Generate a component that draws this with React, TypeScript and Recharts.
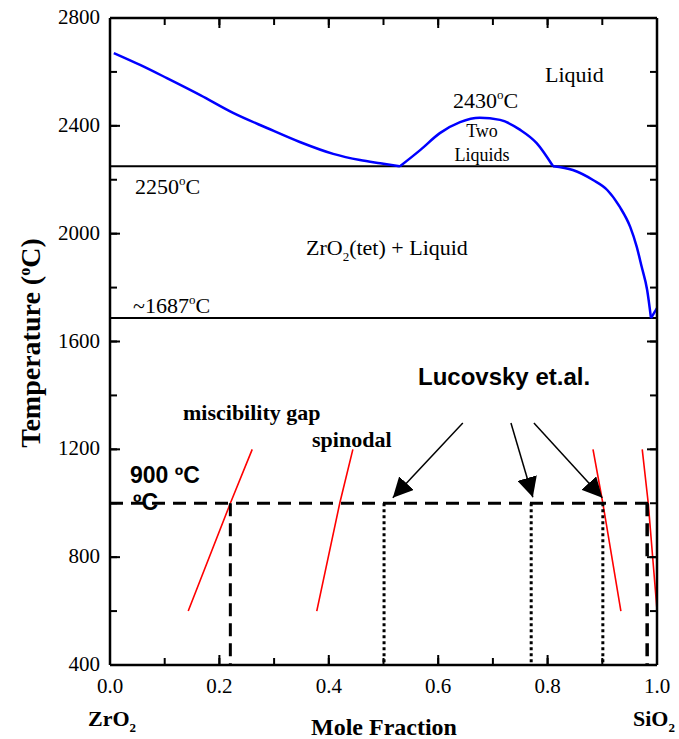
import { ComposedChart, Line, XAxis, YAxis } from 'recharts';

// tick values
const xTicks = [0, 0.1, 0.2, 0.3, 0.4, 0.5, 0.6, 0.7, 0.8, 0.9, 1.0];
const yTicks = [400, 600, 800, 1000, 1200, 1400, 1600, 1800, 2000, 2200, 2400, 2600, 2800];

// liquidus (blue)
const liquidusZrO2 = [
  { x: 0.007, T: 2670 },
  { x: 0.055, T: 2626 },
  { x: 0.104, T: 2577 },
  { x: 0.165, T: 2514 },
  { x: 0.225, T: 2448 },
  { x: 0.287, T: 2392 },
  { x: 0.347, T: 2340 },
  { x: 0.408, T: 2296 },
  { x: 0.457, T: 2273 },
  { x: 0.494, T: 2261 },
  { x: 0.53, T: 2250 },
];
const twoLiquidsDome = [
  { x: 0.53, T: 2250 },
  { x: 0.567, T: 2310 },
  { x: 0.603, T: 2373 },
  { x: 0.64, T: 2414 },
  { x: 0.676, T: 2430 },
  { x: 0.713, T: 2422 },
  { x: 0.75, T: 2385 },
  { x: 0.78, T: 2336 },
  { x: 0.81, T: 2250 },
];
const liquidusSiO2 = [
  { x: 0.81, T: 2250 },
  { x: 0.846, T: 2236 },
  { x: 0.883, T: 2199 },
  { x: 0.909, T: 2162 },
  { x: 0.932, T: 2099 },
  { x: 0.951, T: 2025 },
  { x: 0.963, T: 1951 },
  { x: 0.972, T: 1877 },
  { x: 0.982, T: 1791 },
  { x: 0.989, T: 1687 },
];
const cristobaliteTip = [
  { x: 0.989, T: 1687 },
  { x: 1.0, T: 1724 },
];

// invariant lines
const monotectic = [
  { x: 0, T: 2250 },
  { x: 1, T: 2250 },
];
const eutectic = [
  { x: 0, T: 1687 },
  { x: 1, T: 1687 },
];
const isotherm900 = [
  { x: 0, T: 1000 },
  { x: 1, T: 1000 },
];

// miscibility gap / spinodal (red)
const gapLeft = [
  { x: 0.143, T: 600 },
  { x: 0.22, T: 1000 },
  { x: 0.26, T: 1200 },
];
const spinodalLeft = [
  { x: 0.378, T: 600 },
  { x: 0.42, T: 1000 },
  { x: 0.444, T: 1200 },
];
const spinodalRight = [
  { x: 0.883, T: 1200 },
  { x: 0.901, T: 1000 },
  { x: 0.934, T: 600 },
];
const gapRight = [
  { x: 0.973, T: 1200 },
  { x: 0.984, T: 1000 },
  { x: 1.0, T: 604 },
];

// drops from the 900 C isotherm
const dropGapLeft = [
  { x: 0.22, T: 1000 },
  { x: 0.22, T: 400 },
];
const dropGapRight = [
  { x: 0.982, T: 1000 },
  { x: 0.982, T: 400 },
];
const lucovskyDrops = [0.501, 0.77, 0.901];

// arrows for Lucovsky et.al.
const arrows = [
  [{ x: 0.645, T: 1298 }, { x: 0.517, T: 1020 }],
  [{ x: 0.733, T: 1298 }, { x: 0.773, T: 1022 }],
  [{ x: 0.775, T: 1298 }, { x: 0.9, T: 1020 }],
];

const serif = '"Liberation Serif", "Times New Roman", serif';
const sans = '"Liberation Sans", Arial, sans-serif';

const isMajorX = (v: number) => Math.round(v * 10) % 2 === 0;
const isMajorY = (v: number) => v % 400 === 0;

// built-in tick lines are 7px (minor); majors get a 10px line drawn here
const BottomTick = (props: any) => {
  const { x, y, payload } = props;
  const major = isMajorX(payload.value);
  return (
    <g>
      {major && <line x1={x} x2={x} y1={y} y2={y - 10} stroke="#000" strokeWidth={2} />}
      {major && (
        <text x={x} y={y + 28} textAnchor="middle" fontFamily={serif} fontSize={21} fill="#000">
          {payload.value.toFixed(1)}
        </text>
      )}
    </g>
  );
};

const TopTick = (props: any) => {
  const { x, y, payload } = props;
  return isMajorX(payload.value) ? (
    <line x1={x} x2={x} y1={y} y2={y + 10} stroke="#000" strokeWidth={2} />
  ) : (
    <g />
  );
};

const LeftTick = (props: any) => {
  const { x, y, payload } = props;
  const major = isMajorY(payload.value);
  return (
    <g>
      {major && <line x1={x} x2={x + 10} y1={y} y2={y} stroke="#000" strokeWidth={2} />}
      {major && (
        <text x={x - 10} y={y + 6} textAnchor="end" fontFamily={serif} fontSize={21} fill="#000">
          {payload.value}
        </text>
      )}
    </g>
  );
};

const RightTick = (props: any) => {
  const { x, y, payload } = props;
  return isMajorY(payload.value) ? (
    <line x1={x} x2={x - 10} y1={y} y2={y} stroke="#000" strokeWidth={2} />
  ) : (
    <g />
  );
};

const axisLine = { stroke: '#000', strokeWidth: 2.5 };
const tickLine = { stroke: '#000', strokeWidth: 2 };

export default function App() {
  const common = {
    xAxisId: 'b',
    yAxisId: 'l',
    dataKey: 'T',
    dot: false,
    activeDot: false,
    isAnimationActive: false,
  } as const;

  const xProps = {
    dataKey: 'x',
    type: 'number',
    domain: [0, 1],
    ticks: xTicks,
    interval: 0,
    tickSize: -7,
    tickMargin: 7,
    tickLine,
    axisLine,
    allowDataOverflow: true,
  } as const;
  const yProps = {
    type: 'number',
    domain: [400, 2800],
    ticks: yTicks,
    interval: 0,
    tickSize: -7,
    tickMargin: 7,
    tickLine,
    axisLine,
    allowDataOverflow: true,
  } as const;

  return (
    <div style={{ position: 'absolute', left: 0, top: 0, width: 679, height: 739, background: '#fff' }}>
      <ComposedChart width={679} height={739} margin={{ top: 0, right: 0, bottom: 0, left: 0 }}>
        <defs>
          <marker
            id="arrowHead"
            viewBox="0 0 20 20"
            refX="20"
            refY="10"
            markerWidth="20"
            markerHeight="20"
            orient="auto"
            markerUnits="userSpaceOnUse"
          >
            <path d="M0,0 L20,10 L0,20 z" fill="#000" />
          </marker>
        </defs>

        <XAxis {...xProps} xAxisId="b" height={74} tick={<BottomTick />} />
        <XAxis {...xProps} xAxisId="t" orientation="top" height={18} tick={<TopTick />} />
        <YAxis {...yProps} yAxisId="l" width={110} tick={<LeftTick />} />
        <YAxis {...yProps} yAxisId="r" orientation="right" width={22} tick={<RightTick />} />

        {/* invisible series that ties the top and right axes to the chart */}
        <Line {...common} xAxisId="t" yAxisId="r" data={isotherm900} stroke="none" />

        {/* invariant lines */}
        <Line {...common} data={monotectic} stroke="#000" strokeWidth={2} type="linear" />
        <Line {...common} data={eutectic} stroke="#000" strokeWidth={2} type="linear" />

        {/* liquidus */}
        <Line {...common} data={liquidusZrO2} stroke="#0000ff" strokeWidth={2.5} type="monotone" />
        <Line {...common} data={twoLiquidsDome} stroke="#0000ff" strokeWidth={2.5} type="monotone" />
        <Line {...common} data={liquidusSiO2} stroke="#0000ff" strokeWidth={2.5} type="monotone" />
        <Line {...common} data={cristobaliteTip} stroke="#0000ff" strokeWidth={2.5} type="linear" />

        {/* miscibility gap and spinodal */}
        <Line {...common} data={gapLeft} stroke="#ff0000" strokeWidth={1.6} type="linear" />
        <Line {...common} data={spinodalLeft} stroke="#ff0000" strokeWidth={1.6} type="linear" />
        <Line {...common} data={spinodalRight} stroke="#ff0000" strokeWidth={1.6} type="linear" />
        <Line {...common} data={gapRight} stroke="#ff0000" strokeWidth={1.6} type="linear" />

        {/* 900 C isotherm and drops */}
        <Line {...common} data={isotherm900} stroke="#000" strokeWidth={3} strokeDasharray="13 8" type="linear" />
        <Line {...common} data={dropGapLeft} stroke="#000" strokeWidth={3} strokeDasharray="13 7" type="linear" />
        <Line {...common} data={dropGapRight} stroke="#000" strokeWidth={3.5} strokeDasharray="13 7" type="linear" />
        {lucovskyDrops.map((v) => (
          <Line
            key={v}
            {...common}
            data={[
              { x: v, T: 1000 },
              { x: v, T: 400 },
            ]}
            stroke="#000"
            strokeWidth={3}
            strokeDasharray="3 3"
            type="linear"
          />
        ))}

        {/* arrows */}
        {arrows.map((a, i) => (
          <Line
            key={'arrow' + i}
            {...common}
            data={a}
            stroke="#000"
            strokeWidth={1.5}
            type="linear"
            markerEnd="url(#arrowHead)"
          />
        ))}
      </ComposedChart>

      {/* annotations */}
      <svg
        width={679}
        height={739}
        style={{ position: 'absolute', left: 0, top: 0, pointerEvents: 'none' }}
      >
        <g fontFamily={serif} fill="#000">
          <text x={545} y={82} fontSize={22}>Liquid</text>
          <text x={453} y={108} fontSize={22}>
            2430<tspan dy={-9} fontSize={13}>o</tspan>
            <tspan dy={9}>C</tspan>
          </text>
          <text x={482} y={137} fontSize={18} textAnchor="middle">Two</text>
          <text x={482} y={161} fontSize={18} textAnchor="middle">Liquids</text>
          <text x={135} y={194} fontSize={22}>
            2250<tspan dy={-9} fontSize={13}>o</tspan>
            <tspan dy={9}>C</tspan>
          </text>
          <text x={306} y={255} fontSize={22}>
            ZrO<tspan dy={6} fontSize={13}>2</tspan>
            <tspan dy={-6}>(tet) + Liquid</tspan>
          </text>
          <text x={133} y={313} fontSize={22}>
            ~1687<tspan dy={-9} fontSize={13}>o</tspan>
            <tspan dy={9}>C</tspan>
          </text>
          <text x={183} y={420} fontSize={22} fontWeight="bold">miscibility gap</text>
          <text x={312} y={447} fontSize={22} fontWeight="bold">spinodal</text>
          <text
            x={40}
            y={343}
            fontSize={28}
            fontWeight="bold"
            textAnchor="middle"
            transform="rotate(-90 40 343)"
          >
            Temperature (<tspan dy={-10} fontSize={16}>o</tspan>
            <tspan dy={10}>C)</tspan>
          </text>
          <text x={384} y={735} fontSize={24} fontWeight="bold" textAnchor="middle">Mole Fraction</text>
          <text x={88} y={726} fontSize={22} fontWeight="bold">
            ZrO<tspan dy={6} fontSize={13}>2</tspan>
          </text>
          <text x={633} y={726} fontSize={22} fontWeight="bold">
            SiO<tspan dy={6} fontSize={13}>2</tspan>
          </text>
        </g>
        <g fontFamily={sans} fontWeight="bold" fill="#000">
          <text x={418} y={385} fontSize={24}>Lucovsky et.al.</text>
          <text x={130} y={483} fontSize={23}>900 ºC</text>
          <text x={133} y={510} fontSize={23}>ºC</text>
        </g>
      </svg>
    </div>
  );
}
